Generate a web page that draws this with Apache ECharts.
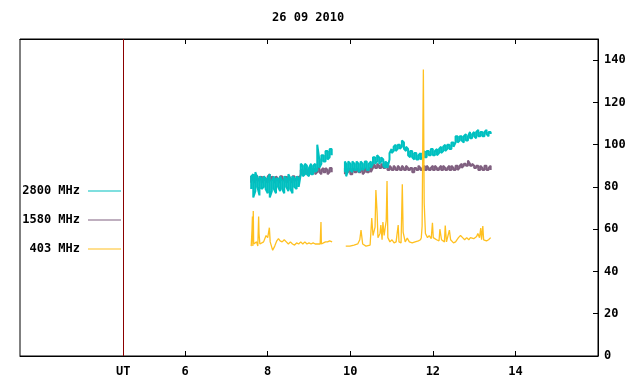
<!DOCTYPE html>
<html>
<head>
<meta charset="utf-8">
<script src="https://cdn.jsdelivr.net/npm/echarts@6/dist/echarts.min.js"></script>
<style>
  html, body { margin: 0; padding: 0; background: #fff; }
  #main { width: 640px; height: 384px; }
</style>
</head>
<body>
<div id="main"></div>
<script>
// chart title and labels
var title = '26 09 2010';
var seriesNames = ['2800 MHz', '1580 MHz', '403 MHz'];
var xLabelValues = [4.5, 6, 8, 10, 12, 14];
var yLabelValues = [0, 20, 40, 60, 80, 100, 120, 140];
var utHour = 4.5;

// 2800 MHz: [hour, low, high] envelope of the noisy trace
var f2800a = [
  [7.60, 79, 85], [7.65, 75, 86], [7.70, 78, 87], [7.75, 80, 84], [7.80, 76, 85],
  [7.85, 79, 84], [7.90, 80, 85], [7.95, 79, 84], [8.00, 77, 84], [8.05, 75, 86],
  [8.10, 78, 83], [8.15, 79, 85], [8.20, 77, 84], [8.25, 80, 84], [8.30, 78, 85],
  [8.35, 79, 83], [8.40, 77, 85], [8.45, 80, 84], [8.50, 78, 86], [8.55, 79, 84],
  [8.60, 77, 85], [8.65, 80, 84], [8.70, 79, 85], [8.75, 80, 84], [8.80, 86, 91],
  [8.85, 85, 90], [8.90, 86, 91], [8.95, 86, 90], [9.00, 85, 89], [9.05, 86, 91],
  [9.10, 86, 90], [9.15, 87, 91], [9.20, 88, 100], [9.25, 89, 93], [9.30, 91, 95],
  [9.35, 92, 95], [9.40, 92, 97], [9.45, 93, 97], [9.50, 94, 98], [9.55, 95, 98]
];
var f2800b = [
  [9.87, 87, 92], [9.90, 85, 91], [9.95, 88, 92], [10.00, 88, 91], [10.05, 87, 92],
  [10.10, 88, 91], [10.15, 88, 92], [10.20, 87, 91], [10.25, 88, 92], [10.30, 88, 91],
  [10.35, 89, 92], [10.40, 88, 92], [10.45, 88, 91], [10.50, 89, 92], [10.55, 91, 94],
  [10.60, 91, 94], [10.65, 92, 95], [10.70, 91, 94], [10.75, 92, 94], [10.80, 90, 93],
  [10.85, 89, 92], [10.90, 89, 91], [10.95, 93, 96], [11.00, 96, 98], [11.05, 97, 99],
  [11.10, 97, 100], [11.15, 98, 100], [11.20, 98, 100], [11.25, 99, 102], [11.30, 98, 101],
  [11.35, 97, 99], [11.40, 95, 98], [11.45, 94, 97], [11.50, 94, 97], [11.55, 93, 96],
  [11.60, 93, 96], [11.65, 93, 95], [11.70, 93, 96], [11.75, 94, 96], [11.80, 94, 97],
  [11.85, 94, 97], [11.90, 95, 97], [11.95, 95, 98], [12.00, 95, 98], [12.05, 95, 97],
  [12.10, 95, 98], [12.15, 96, 98], [12.20, 96, 99], [12.25, 97, 99], [12.30, 97, 100],
  [12.35, 98, 100], [12.40, 98, 100], [12.45, 98, 101], [12.50, 99, 101], [12.55, 101, 104],
  [12.60, 101, 104], [12.65, 102, 104], [12.70, 102, 104], [12.75, 101, 104], [12.80, 102, 105],
  [12.85, 102, 104], [12.90, 103, 106], [12.95, 103, 105], [13.00, 104, 106], [13.05, 103, 106],
  [13.10, 104, 107], [13.15, 104, 106], [13.20, 104, 106], [13.25, 104, 106], [13.30, 105, 107],
  [13.35, 104, 106], [13.40, 105, 106]
];

// 1580 MHz envelope
var f1580a = [
  [7.60, 82, 85], [7.65, 83, 85], [7.70, 82, 86], [7.75, 83, 85], [7.80, 83, 84],
  [7.85, 82, 85], [7.90, 83, 85], [7.95, 83, 84], [8.00, 82, 85], [8.05, 83, 86],
  [8.10, 83, 85], [8.15, 82, 84], [8.20, 83, 85], [8.25, 83, 84], [8.30, 82, 85],
  [8.35, 83, 85], [8.40, 83, 84], [8.45, 82, 85], [8.50, 83, 85], [8.55, 83, 84],
  [8.60, 82, 85], [8.65, 83, 85], [8.70, 83, 84], [8.75, 83, 85], [8.80, 86, 88],
  [8.85, 86, 88], [8.90, 86, 89], [8.95, 86, 88], [9.00, 87, 89], [9.05, 86, 88],
  [9.10, 87, 89], [9.15, 86, 88], [9.20, 87, 89], [9.25, 87, 89], [9.30, 86, 88],
  [9.35, 87, 89], [9.40, 87, 89], [9.45, 86, 88], [9.50, 87, 89], [9.55, 87, 89]
];
var f1580b = [
  [9.87, 86, 89], [9.90, 87, 88], [9.95, 87, 89], [10.00, 86, 88], [10.05, 86, 89],
  [10.10, 87, 88], [10.15, 87, 89], [10.20, 87, 88], [10.25, 87, 89], [10.30, 86, 88],
  [10.35, 87, 89], [10.40, 87, 88], [10.45, 87, 89], [10.50, 87, 89], [10.55, 89, 91],
  [10.60, 89, 90], [10.65, 89, 91], [10.70, 89, 90], [10.75, 89, 91], [10.80, 89, 90],
  [10.85, 89, 91], [10.90, 88, 90], [10.95, 88, 90], [11.00, 88, 89], [11.05, 88, 90],
  [11.10, 88, 89], [11.15, 88, 90], [11.20, 88, 89], [11.25, 88, 90], [11.30, 88, 89],
  [11.35, 88, 90], [11.40, 88, 89], [11.45, 88, 89], [11.50, 87, 89], [11.55, 87, 89],
  [11.60, 88, 89], [11.65, 88, 90], [11.70, 88, 89], [11.75, 88, 89], [11.80, 88, 90],
  [11.85, 88, 90], [11.90, 88, 89], [11.95, 88, 89], [12.00, 88, 90], [12.05, 88, 90],
  [12.10, 88, 89], [12.15, 88, 89], [12.20, 88, 90], [12.25, 88, 90], [12.30, 88, 89],
  [12.35, 88, 89], [12.40, 88, 90], [12.45, 88, 90], [12.50, 88, 89], [12.55, 88, 90],
  [12.60, 88, 90], [12.65, 89, 90], [12.70, 89, 91], [12.75, 90, 91], [12.80, 90, 91],
  [12.85, 90, 92.5], [12.90, 90, 91], [12.95, 90, 91], [13.00, 89, 90], [13.05, 89, 90],
  [13.10, 88, 90], [13.15, 88, 90], [13.20, 88, 89], [13.25, 88, 90], [13.30, 88, 90],
  [13.35, 88, 89], [13.40, 88, 90]
];

// 403 MHz trace: [hour, value]
var f403a = [
  [7.60, 52], [7.62, 60], [7.63, 66], [7.64, 52], [7.65, 68.6], [7.66, 53], [7.70, 53],
  [7.73, 54], [7.76, 52], [7.78, 66], [7.79, 58], [7.81, 53], [7.85, 53], [7.90, 54],
  [7.96, 57], [8.00, 56], [8.04, 60.7], [8.06, 54], [8.09, 52], [8.12, 50], [8.17, 52],
  [8.22, 54.5], [8.26, 55.5], [8.30, 54.5], [8.35, 54], [8.40, 55], [8.45, 54],
  [8.50, 53], [8.55, 54], [8.60, 53], [8.65, 52.5], [8.70, 53.5], [8.75, 53], [8.80, 54],
  [8.85, 53], [8.90, 54], [8.95, 53], [9.00, 53.5], [9.05, 53], [9.10, 53.5], [9.15, 53],
  [9.20, 53], [9.27, 53], [9.29, 63.4], [9.30, 53], [9.35, 53.5], [9.40, 54], [9.45, 54],
  [9.50, 54.5], [9.56, 54]
];
var f403b = [
  [9.89, 52], [9.99, 52], [10.09, 52.5], [10.18, 53], [10.23, 55], [10.26, 59.6], [10.30, 53],
  [10.38, 52], [10.48, 52.5], [10.52, 65.3], [10.55, 57], [10.60, 61], [10.62, 78.5],
  [10.65, 67.6], [10.67, 56], [10.72, 58], [10.74, 62], [10.77, 55], [10.79, 63.4], [10.82, 57],
  [10.84, 60], [10.87, 63.9], [10.89, 82.8], [10.91, 56], [10.96, 54], [11.01, 55], [11.06, 53.5],
  [11.11, 54], [11.16, 62], [11.18, 54], [11.23, 53.5], [11.26, 81.3], [11.28, 58.6], [11.33, 54],
  [11.38, 55.8], [11.43, 54], [11.50, 53.5], [11.57, 54], [11.65, 54.5], [11.70, 55], [11.72, 56],
  [11.74, 61.5], [11.77, 135.6], [11.79, 72.4], [11.82, 58], [11.87, 56], [11.91, 57], [11.96, 55.5],
  [11.99, 63], [12.01, 56], [12.09, 55], [12.15, 54.5], [12.17, 60], [12.21, 55], [12.28, 54],
  [12.30, 61.7], [12.33, 54], [12.40, 59.6], [12.43, 55], [12.50, 53.5], [12.55, 54], [12.62, 56],
  [12.67, 57], [12.72, 56], [12.77, 55], [12.82, 56], [12.87, 55], [12.91, 56], [12.99, 55.5],
  [13.06, 56.5], [13.09, 58], [13.13, 56], [13.16, 60.5], [13.18, 55], [13.21, 61.5], [13.23, 55],
  [13.30, 54.5], [13.35, 55], [13.40, 56]
];

var gapHour = 9.72;
var colors = { f2800: '#00c0c0', f1580: '#806080', f403: '#ffc020' };
var font = 'DejaVu Sans Mono';

// turn [t, lo, hi] rows into a vertical zig-zag so the noise band looks filled
function band(rows) {
  var out = [];
  rows.forEach(function (r, i) {
    if (i % 2 === 0) { out.push([r[0], r[1]]); out.push([r[0], r[2]]); }
    else { out.push([r[0], r[2]]); out.push([r[0], r[1]]); }
  });
  return out;
}
function joinGap(a, b) {
  return a.concat([[gapHour, '-']], b);
}

var chart = echarts.init(document.getElementById('main'));

function legendFor(name, top) {
  return {
    data: [name],
    right: 514,
    top: top,
    align: 'right',
    icon: 'rect',
    itemWidth: 33,
    itemHeight: 1,
    selectedMode: false,
    textStyle: { fontFamily: font, fontWeight: 'bold', fontSize: 12, color: '#000', padding: [0, 3, 0, 0] }
  };
}

chart.setOption({
  animation: false,
  backgroundColor: '#fff',
  title: {
    text: title,
    left: 272,
    top: 12,
    padding: 0,
    textStyle: { fontFamily: font, fontWeight: 'bold', fontSize: 12, color: '#000' }
  },
  legend: [
    legendFor(seriesNames[0], 180),
    legendFor(seriesNames[1], 209),
    legendFor(seriesNames[2], 238)
  ],
  grid: {
    left: 20, right: 42, top: 39, bottom: 28,
    show: true, borderColor: '#000', borderWidth: 1
  },
  xAxis: [{
    type: 'value', min: 2, max: 16, position: 'bottom',
    axisLine: { show: true, lineStyle: { color: '#000', width: 1 } },
    axisTick: { show: true, inside: true, length: 5, customValues: [6, 8, 10, 12, 14], lineStyle: { color: '#000' } },
    axisLabel: {
      customValues: xLabelValues, margin: 10,
      fontFamily: font, fontWeight: 'bold', fontSize: 12, color: '#000',
      formatter: function (v) { return v === utHour ? 'UT' : String(v); }
    },
    splitLine: { show: false }
  }, {
    type: 'value', min: 2, max: 16, position: 'top',
    axisLine: { show: true, lineStyle: { color: '#000', width: 1 } },
    axisTick: { show: true, inside: true, length: 5, customValues: [6, 8, 10, 12, 14], lineStyle: { color: '#000' } },
    axisLabel: { show: false },
    splitLine: { show: false }
  }],
  yAxis: {
    type: 'value', min: 0, max: 150, position: 'right',
    axisLine: { show: true, lineStyle: { color: '#000', width: 1 } },
    axisTick: { show: true, inside: true, length: 5, customValues: yLabelValues.slice(1), lineStyle: { color: '#000' } },
    axisLabel: {
      customValues: yLabelValues, margin: 6,
      fontFamily: font, fontWeight: 'bold', fontSize: 12, color: '#000'
    },
    splitLine: { show: false }
  },
  series: [{
    name: seriesNames[1], type: 'line', showSymbol: false, symbol: 'none',
    color: colors.f1580, lineStyle: { width: 2, color: colors.f1580 },
    data: joinGap(band(f1580a), band(f1580b)), z: 2,
    markLine: {
      silent: true, symbol: 'none', label: { show: false },
      lineStyle: { color: '#8b0000', type: 'solid', width: 1 },
      data: [{ xAxis: utHour }]
    }
  }, {
    name: seriesNames[0], type: 'line', showSymbol: false, symbol: 'none',
    color: colors.f2800, lineStyle: { width: 2, color: colors.f2800 },
    data: joinGap(band(f2800a), band(f2800b)), z: 3
  }, {
    name: seriesNames[2], type: 'line', showSymbol: false, symbol: 'none',
    color: colors.f403, lineStyle: { width: 1.3, color: colors.f403 },
    data: joinGap(f403a, f403b), z: 4
  }]
});
</script>
</body>
</html>
